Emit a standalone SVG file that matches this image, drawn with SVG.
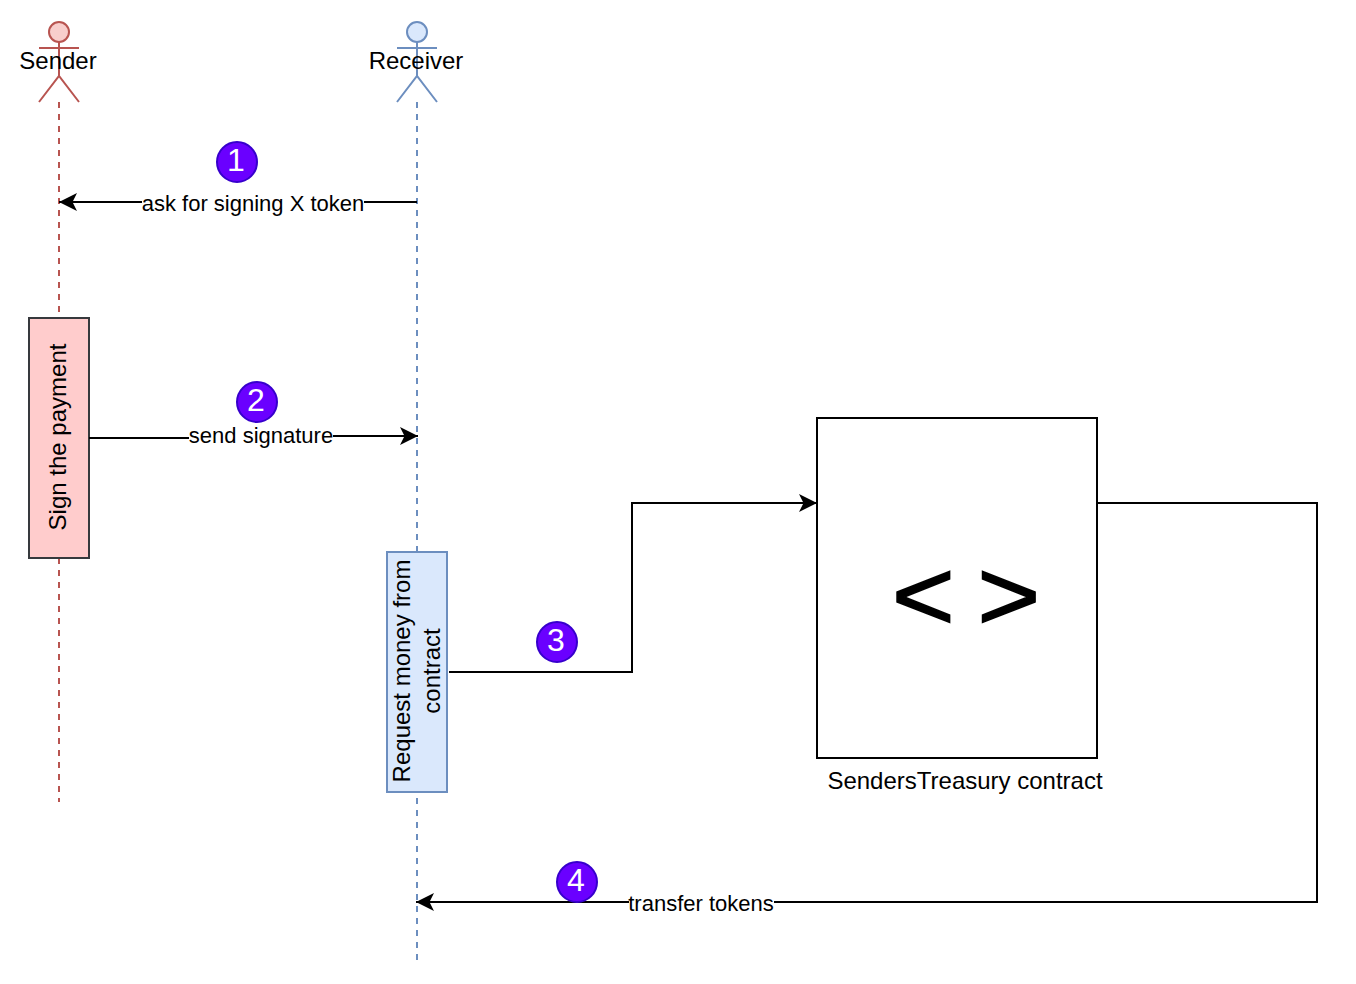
<svg xmlns="http://www.w3.org/2000/svg" width="1356" height="984" viewBox="0 0 1356 984">
<style>
text{font-family:"Liberation Sans",Arial,sans-serif;font-size:24px;fill:#000;text-anchor:middle}
.edge{fill:none;stroke:#000;stroke-width:2}
.red{stroke:#b85450;stroke-width:2;fill:none}
.blue{stroke:#6c8ebf;stroke-width:2;fill:none}
.badge{fill:#6a00ff;stroke:#3700cc;stroke-width:2}
.num{font-size:32px;fill:#fff}
.lbl{fill:#fff;stroke:none}
.el{font-size:22px}
</style>
<defs>
<marker id="arrow" viewBox="0 0 19 18" refX="19" refY="9" markerWidth="19" markerHeight="18" markerUnits="userSpaceOnUse" orient="auto"><path d="M1 0L19 9L1 18L5.500 9Z" fill="#000"/></marker>
</defs>
<g id="lifelines">
<path class="red" d="M59 102V802" stroke-dasharray="6 6"/>
<path class="blue" d="M417 102V960" stroke-dasharray="6 6"/>
</g>
<g id="sender">
<circle cx="59" cy="32" r="10" class="red" style="fill:#f8cecc"/>
<path class="red" d="M59 42V76M39 48H79M39 102L59 76L79 102"/>
<text x="58" y="69">Sender</text>
</g>
<g id="receiver">
<circle cx="417" cy="32" r="10" class="blue" style="fill:#dae8fc"/>
<path class="blue" d="M417 42V76M397 48H437M397 102L417 76L437 102"/>
<text x="416" y="69">Receiver</text>
</g>
<g id="sign-payment">
<rect x="29" y="318" width="60" height="240" fill="#ffcccc" stroke="#36393d" stroke-width="2"/>
<text transform="translate(66 437) rotate(-90)">Sign the payment</text>
</g>
<g id="request-money">
<rect x="387" y="552" width="60" height="240" fill="#dae8fc" stroke="#6c8ebf" stroke-width="2"/>
<text transform="translate(410 671) rotate(-90)">Request money from</text>
<text transform="translate(440 671) rotate(-90)">contract</text>
</g>
<g id="contract">
<rect x="817" y="418" width="280" height="340" fill="#fff" stroke="#000" stroke-width="2"/>
<text transform="translate(966 630) scale(1.08 1)" style="font-size:100px;stroke:#000;stroke-width:1.500;word-spacing:-7px">&lt; &gt;</text>
<text x="965" y="789">SendersTreasury contract</text>
</g>
<g id="connectors">
<path class="edge" d="M417 202H59" marker-end="url(#arrow)"/>
<path class="edge" d="M89 438H261L333 436H418" marker-end="url(#arrow)"/>
<path class="edge" d="M449 672H632V503H817" marker-end="url(#arrow)"/>
<path class="edge" d="M1097 503H1317V902H416" marker-end="url(#arrow)"/>
<rect class="lbl" x="142" y="190" width="222" height="26"/>
<text class="el" x="253" y="211">ask for signing X token</text>
<rect class="lbl" x="189" y="423" width="144" height="26"/>
<text class="el" x="261" y="443">send signature</text>
<rect class="lbl" x="629" y="890" width="145" height="26"/>
<text class="el" x="701" y="911">transfer tokens</text>
</g>
<g id="badge-1"><circle class="badge" cx="237" cy="162" r="20"/><text class="num" x="236" y="171">1</text></g>
<g id="badge-2"><circle class="badge" cx="257" cy="402" r="20"/><text class="num" x="256" y="411">2</text></g>
<g id="badge-3"><circle class="badge" cx="557" cy="642" r="20"/><text class="num" x="556" y="651">3</text></g>
<g id="badge-4"><circle class="badge" cx="577" cy="882" r="20"/><text class="num" x="576" y="891">4</text></g>
</svg>
